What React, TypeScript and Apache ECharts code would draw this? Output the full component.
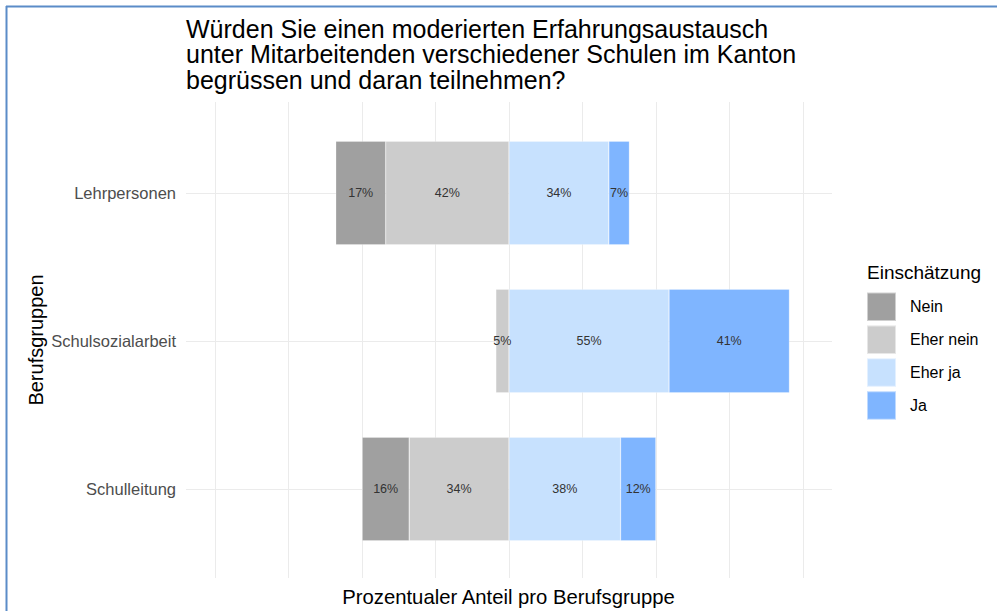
import React, { useEffect, useRef } from "react";
import * as echarts from "echarts";

const categories = ["Lehrpersonen", "Schulsozialarbeit", "Schulleitung"];
const legendOrder = ["Nein", "Eher nein", "Eher ja", "Ja"];
const neinValues = [17, 0, 16];
const eherNeinValues = [42, 4.5, 34];
const eherJaValues = [34, 54.5, 38];
const jaValues = [7, 41, 12];
const colorNein = "#a0a0a0";
const colorEherNein = "#cccccc";
const colorEherJa = "#c7e1fe";
const colorJa = "#7fb5ff";
const titleText =
  "Würden Sie einen moderierten Erfahrungsaustausch\nunter Mitarbeitenden verschiedener Schulen im Kanton\nbegrüssen und daran teilnehmen?";
const xTitle = "Prozentualer Anteil pro Berufsgruppe";
const yTitle = "Berufsgruppen";
const legendTitle = "Einschätzung";

const FONT = "'Liberation Sans', Arial, Helvetica, sans-serif";

export default function App() {
  const ref = useRef<HTMLDivElement>(null);

  useEffect(() => {
    document.body.style.margin = "0";
    if (!ref.current) return;
    const chart = echarts.init(ref.current, undefined, { renderer: "svg" });

    const labelFmt = (p: any) => {
      const v = Math.abs(Number(p.value));
      return v === 0 ? "" : Math.round(v) + "%";
    };

    const barBase = (name: string, data: number[], color: string, negative: boolean) => ({
      name,
      type: "bar",
      stack: "total",
      xAxisIndex: 0,
      yAxisIndex: 0,
      barWidth: "70%",
      z: 2,
      data: data.map((v) => (negative ? -v : v)),
      itemStyle: { color, borderColor: "rgba(255,255,255,0.5)", borderWidth: 0.5 },
      label: {
        show: true,
        position: "inside",
        formatter: labelFmt,
        fontSize: 12.5,
        color: "#333333",
        fontFamily: FONT,
      },
      emphasis: { disabled: true },
    });

    const eherNeinSeries: any = barBase("Eher nein", eherNeinValues, colorEherNein, true);
    eherNeinSeries.markLine = {
      z: 1,
      silent: true,
      symbol: ["none", "none"],
      label: { show: false },
      lineStyle: { color: "#ebebeb", width: 1, type: "solid" },
      emphasis: { disabled: true },
      data: categories.map((c) => ({ yAxis: c })),
    };

    const option: any = {
      animation: false,
      backgroundColor: "#ffffff",
      textStyle: { fontFamily: FONT },
      title: {
        text: titleText,
        left: 186,
        top: 16,
        padding: 0,
        textStyle: {
          fontSize: 25,
          lineHeight: 25.5,
          fontWeight: "normal",
          color: "#000000",
          fontFamily: FONT,
        },
      },
      legend: {
        orient: "vertical",
        left: 866,
        top: 291.5,
        padding: 0,
        itemWidth: 29,
        itemHeight: 28.5,
        itemGap: 2.4,
        icon: "rect",
        selectedMode: false,
        data: legendOrder,
        textStyle: { fontSize: 16, color: "#000000", fontFamily: FONT, padding: [0, 0, 0, 9] },
      },
      grid: [
        { left: 186, width: 646, top: 119, height: 444, containLabel: false },
        { left: 215, width: 588, top: 102, bottom: 33, containLabel: false },
      ],
      xAxis: [
        { gridIndex: 0, type: "value", min: -110, max: 110, show: false },
        {
          gridIndex: 1,
          type: "value",
          min: -100,
          max: 100,
          interval: 25,
          axisLine: { show: false },
          axisTick: { show: false },
          axisLabel: { show: false },
          splitLine: { show: true, lineStyle: { color: "#ebebeb", width: 1 } },
        },
      ],
      yAxis: [
        {
          gridIndex: 0,
          type: "category",
          data: categories,
          inverse: true,
          axisLine: { show: false },
          axisTick: { show: false },
          splitLine: { show: false },
          axisLabel: { color: "#4d4d4d", fontSize: 16.5, margin: 10, fontFamily: FONT },
        },
        { gridIndex: 1, type: "value", min: 0, max: 1, show: false },
      ],
      series: [
        eherNeinSeries,
        barBase("Nein", neinValues, colorNein, true),
        barBase("Eher ja", eherJaValues, colorEherJa, false),
        barBase("Ja", jaValues, colorJa, false),
      ],
      graphic: [
        {
          type: "line",
          silent: true,
          shape: { x1: 6, y1: 6.5, x2: 997, y2: 6.5 },
          style: { stroke: "#5b8cc8", lineWidth: 2 },
        },
        {
          type: "line",
          silent: true,
          shape: { x1: 6.5, y1: 6, x2: 6.5, y2: 611 },
          style: { stroke: "#5b8cc8", lineWidth: 2 },
        },
        {
          type: "text",
          silent: true,
          x: 36,
          y: 340,
          rotation: Math.PI / 2,
          style: {
            text: yTitle,
            fontSize: 20,
            fill: "#000000",
            fontFamily: FONT,
            align: "center",
            verticalAlign: "middle",
          },
        },
        {
          type: "text",
          silent: true,
          x: 508.5,
          y: 597,
          style: {
            text: xTitle,
            fontSize: 20.3,
            fill: "#000000",
            fontFamily: FONT,
            align: "center",
            verticalAlign: "middle",
          },
        },
        {
          type: "text",
          silent: true,
          x: 867,
          y: 272.5,
          style: {
            text: legendTitle,
            fontSize: 19,
            fill: "#000000",
            fontFamily: FONT,
            align: "left",
            verticalAlign: "middle",
          },
        },
      ],
    };

    chart.setOption(option);
    return () => chart.dispose();
  }, []);

  return <div ref={ref} style={{ width: 997, height: 611 }} />;
}
